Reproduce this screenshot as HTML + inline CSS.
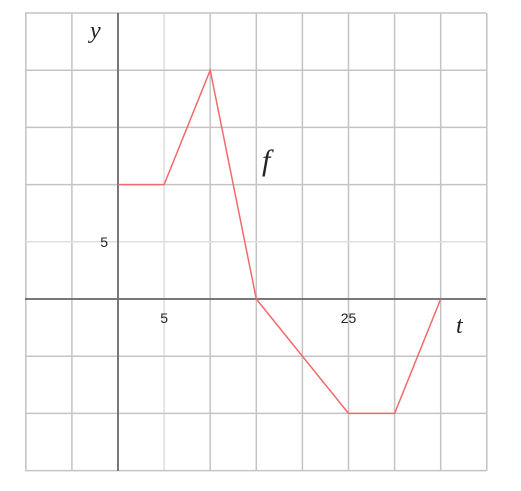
<!DOCTYPE html>
<html><head><meta charset="utf-8"><style>body{margin:0;background:#fff}svg{display:block}</style></head>
<body>
<svg id="chart" width="521" height="491" xmlns="http://www.w3.org/2000/svg" font-family="Liberation Sans, sans-serif">
<g id="grid"></g>
<g id="axes"></g>
<g id="series"></g>
</svg>
<script>
const tValues = [0, 5, 10, 15, 25, 30, 35];
const fValues = [10, 10, 20, 0, -10, -10, 0];
const xTickLabels = [5, 25];
const yTickLabels = [5];

const NS = 'http://www.w3.org/2000/svg';
const x0 = 118, xs = 46.1/5, y0 = 299, ys = 57.2/5;
const X = t => x0 + t * xs;
const Y = v => y0 - v * ys;
function mk(tag, attrs, parent, text) {
  const e = document.createElementNS(NS, tag);
  for (const k in attrs) e.setAttribute(k, attrs[k]);
  if (text !== undefined) e.textContent = text;
  parent.appendChild(e);
  return e;
}
const grid = document.getElementById('grid');
const axes = document.getElementById('axes');
const series = document.getElementById('series');
for (let t = -10; t <= 40; t += 5) {
  const light = (t === 5);
  const l = mk('line', {x1: X(t), x2: X(t), y1: 13, y2: 471, stroke: light ? '#dedede' : '#c4c4c4', 'stroke-width': 1.5}, grid);
  
  
}
for (let v = -15; v <= 25; v += 5) {
  const light = (v === 5);
  const l = mk('line', {x1: 25, x2: 486, y1: Y(v), y2: Y(v), stroke: light ? '#dedede' : '#c4c4c4', 'stroke-width': 1.5}, grid);
  
  
}
const xa = mk('line', {x1: 25, x2: 486, y1: y0, y2: y0, stroke: '#555', 'stroke-width': 1.5}, axes);


const ya = mk('line', {x1: x0, x2: x0, y1: 13, y2: 471, stroke: '#777', 'stroke-width': 2}, axes);


xTickLabels.forEach(t => {
  const e = mk('text', {x: X(t), y: y0 + 24, 'text-anchor': 'middle', 'font-size': 14, fill: '#222'}, axes, t);
  
  
});
yTickLabels.forEach(v => {
  const e = mk('text', {x: x0 - 10, y: Y(v) + 5, 'text-anchor': 'end', 'font-size': 14, fill: '#222'}, axes, v);
  
  
});
const yt = mk('text', {x: 90, y: 38, 'font-size': 24, 'font-style': 'italic', 'font-family': 'Liberation Serif, serif', fill: '#222'}, axes, 'y');


const xt = mk('text', {x: 456, y: 333, 'font-size': 24, 'font-style': 'italic', 'font-family': 'Liberation Serif, serif', fill: '#222'}, axes, 't');


const fl = mk('text', {x: 262, y: 170, 'font-size': 30, 'font-style': 'italic', 'font-family': 'Liberation Serif, serif', fill: '#222'}, series, 'f');


const pts = tValues.map((t, i) => X(t) + ',' + Y(fValues[i])).join(' ');
const pl = mk('polyline', {points: pts, fill: 'none', stroke: '#f26a6a', 'stroke-width': 1.5}, series);


</script>
</body></html>
